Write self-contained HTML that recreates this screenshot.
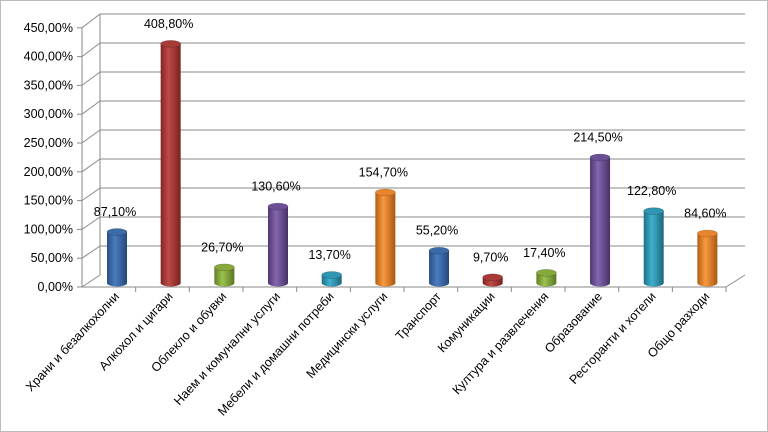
<!DOCTYPE html><html><head><meta charset="utf-8"><style>body{margin:0;background:#fff}svg{display:block}text{font-family:"Liberation Sans","DejaVu Sans",sans-serif}</style></head><body>
<svg width="768" height="432" viewBox="0 0 768 432" xmlns="http://www.w3.org/2000/svg">
<defs>
<linearGradient id="g0"><stop offset="0" stop-color="#2a4f82"/><stop offset=".4" stop-color="#4a7cc0"/><stop offset="1" stop-color="#24487a"/></linearGradient>
<linearGradient id="g1"><stop offset="0" stop-color="#7e2624"/><stop offset=".4" stop-color="#c04a46"/><stop offset="1" stop-color="#762220"/></linearGradient>
<linearGradient id="g2"><stop offset="0" stop-color="#627e28"/><stop offset=".4" stop-color="#9cc24c"/><stop offset="1" stop-color="#5a7624"/></linearGradient>
<linearGradient id="g3"><stop offset="0" stop-color="#4e3870"/><stop offset=".4" stop-color="#8466b0"/><stop offset="1" stop-color="#463266"/></linearGradient>
<linearGradient id="g4"><stop offset="0" stop-color="#1f6f86"/><stop offset=".4" stop-color="#3fb0d0"/><stop offset="1" stop-color="#1c677c"/></linearGradient>
<linearGradient id="g5"><stop offset="0" stop-color="#b25e14"/><stop offset=".4" stop-color="#f89a40"/><stop offset="1" stop-color="#a85812"/></linearGradient>
</defs>
<rect x="0.5" y="0.5" width="767" height="431" fill="#fff" stroke="#bbb"/>
<g stroke="#8a8a8a" stroke-width="1" fill="none" id="grid"></g>
<g id="bars"></g>
<g id="labels" font-size="12.5" fill="#000"></g>
<script>
var ns="http://www.w3.org/2000/svg";
function el(p,t,a,txt){var e=document.createElementNS(ns,t);for(var k in a)e.setAttribute(k,a[k]);if(txt)e.textContent=txt;document.getElementById(p).appendChild(e);}
for(var k=0;k<=9;k++){var by=275-k*29,fy=287-k*28.8;
el("grid","line",{x1:82,y1:fy,x2:100,y2:by});
if(k>0)el("grid","line",{x1:100,y1:by,x2:745,y2:by});
el("grid","line",{x1:77,y1:fy,x2:82,y2:fy});
el("labels","text",{x:73,y:fy+4,"text-anchor":"end"},(k*50)+",00%");}
el("grid","line",{x1:100,y1:14,x2:100,y2:275});
el("grid","line",{x1:82,y1:28,x2:82,y2:287});
el("grid","polyline",{points:"82,287 726,287 745,275"});
var v=[87.1,408.8,26.7,130.6,13.7,154.7,55.2,9.7,17.4,214.5,122.8,84.6];
var n=["Храни и безалкохолни","Алкохол и цигари","Облекло и обувки","Наем и комунални услуги","Мебели и домашни потреби","Медицински услуги","Транспорт","Комуникации","Култура и развлечения","Образование","Ресторанти и хотели","Общо разходи"];
var c=["#3a6aa8","#a83a38","#86a83c","#6c4f95","#2f95b0","#e7842c"];
var w=53.67;
for(var i=0;i<12;i++){
var tx=82+(i+1)*w;el("grid","line",{x1:tx,y1:287,x2:tx,y2:292});
var cx=117+i*w,b=283,h=v[i]*0.585,t=b-h,g=i%6;
el("bars","ellipse",{cx:cx,cy:b,rx:10,ry:3.5,fill:"url(#g"+g+")"});
el("bars","rect",{x:cx-10,y:t,width:20,height:h,fill:"url(#g"+g+")"});
el("bars","ellipse",{cx:cx,cy:t,rx:10,ry:3.5,fill:c[g],stroke:"rgba(0,0,0,0.25)","stroke-width":0.6});
el("labels","text",{x:cx-2,y:t-16,"text-anchor":"middle"},v[i].toFixed(2).replace(".",",")+"%");
var lx=82+(i+0.5)*w+11,ly=297;
el("labels","text",{x:lx,y:ly,"text-anchor":"end",transform:"rotate(-47 "+lx+" "+ly+")"},n[i]);}
</script>
</svg></body></html>
